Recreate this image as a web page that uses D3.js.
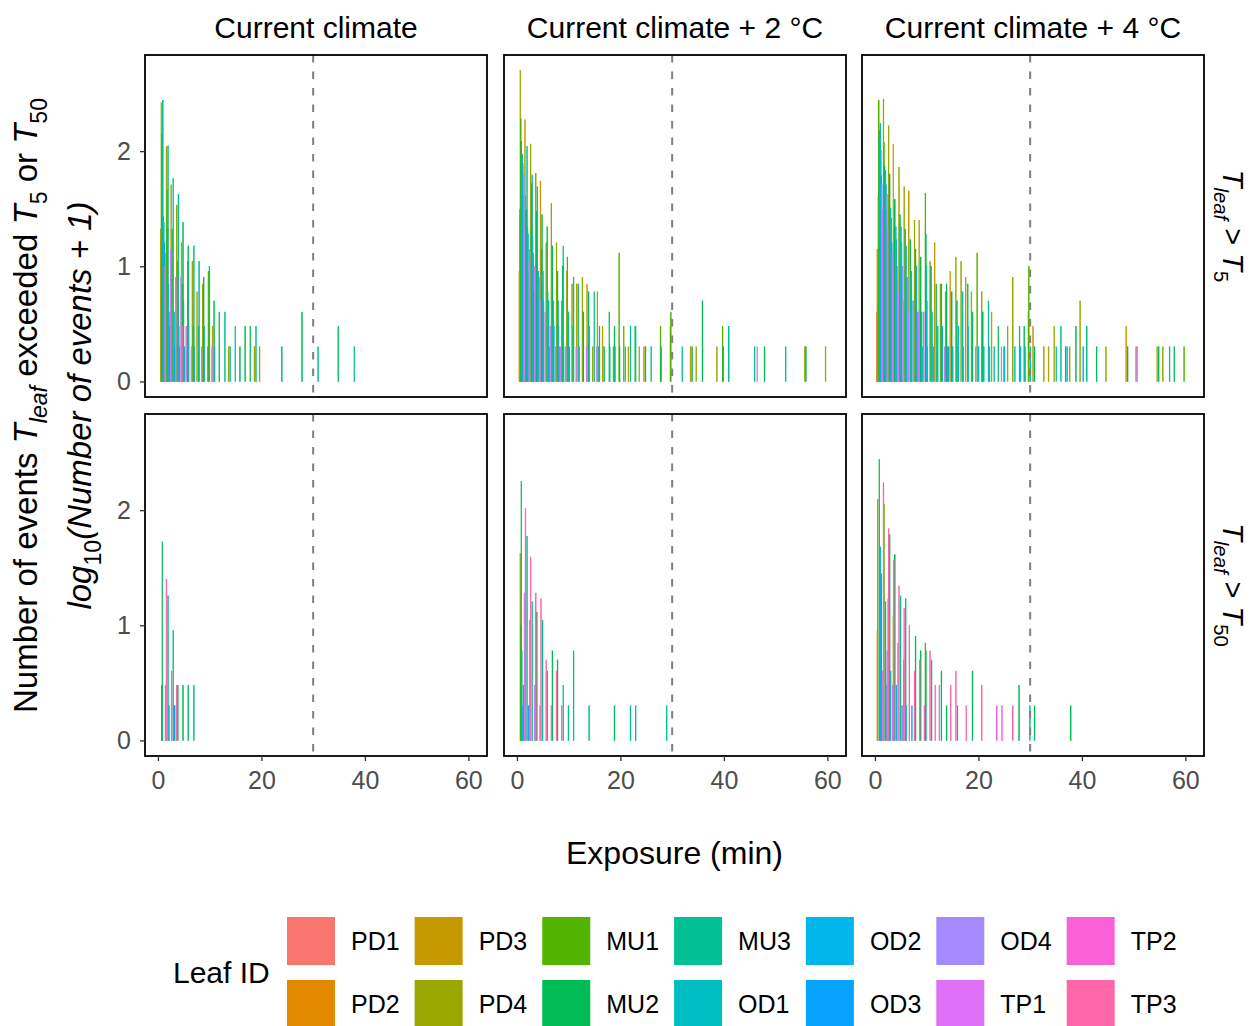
<!DOCTYPE html>
<html>
<head>
<meta charset="utf-8">
<script src="https://cdn.jsdelivr.net/npm/d3@7"></script>
<style>
  body { margin: 0; background: #fff; }
  svg { display: block; }
</style>
</head>
<body>
<svg id="chart" width="1251" height="1026"></svg>
<script>
// ---- data ---------------------------------------------------------------
const leafIds = ["PD1", "PD2", "PD3", "PD4", "MU1", "MU2", "MU3",
                 "OD1", "OD2", "OD3", "OD4", "TP1", "TP2", "TP3"];
const leafColors = ["#F8766D", "#E38900", "#C49A00", "#99A800", "#53B400", "#00BC56", "#00C094",
                    "#00BFC4", "#00B6EB", "#06A4FF", "#A58AFF", "#DF70F8", "#FB61D7", "#FF66A8"];
const climates = ["Current climate", "Current climate + 2 °C", "Current climate + 4 °C"];
const thresholds = ["5", "50"];
const xTicks = [0, 20, 40, 60];
const yTicks = [0, 1, 2];
const exposureLimit = 30;

// [leaf, exposure (min), number of events]
const eventsCurrentT5 = [
  ["PD3",1,20],["PD4",1,262],["MU1",1,140],["MU2",1,108],["MU3",1,274],["OD1",1,26],["OD2",1,23],["OD3",1,15],["OD4",1,9],["TP1",1,5],
  ["PD3",2,12],["PD4",2,108],["MU1",2,45],["MU2",2,20],["MU3",2,110],["OD1",2,6],["OD2",2,3],["OD3",2,2],["TP1",2,13],
  ["PD3",3,50],["PD4",3,10],["MU1",3,20],["MU3",3,57],["OD2",3,3],["OD3",3,1],["TP1",3,7],
  ["PD4",4,33],["MU1",4,10],["MU3",4,41],["OD1",4,2],["OD2",4,1],["TP1",4,7],["TP3",4,2],
  ["PD3",5,15],["MU1",5,6],["MU2",5,23],["MU3",5,4],["OD2",5,1],["TP1",5,2],
  ["PD4",6,2],["MU1",6,10],["MU2",6,14],["MU3",6,2],["TP1",6,1],
  ["PD4",7,10],["MU2",7,2],["MU3",7,14],["OD1",7,1],
  ["PD3",8,5],["MU2",8,2],["MU3",8,10],["TP1",8,1],
  ["PD4",9,6],["MU1",9,1],["MU2",9,7],["MU3",9,2],
  ["PD4",10,1],["MU1",10,8],["MU3",10,9],["TP1",10,1],
  ["PD3",11,2],["MU2",11,4],["MU3",11,1],
  ["MU2",12,3],["MU3",13,3],["PD4",14,1],["MU3",14,1],["MU3",15,2],["MU2",16,1],["MU2",17,2],["MU2",18,2],
  ["PD4",19,1],["MU3",19,2],["PD4",20,1],["MU3",24,1],["MU2",28,3],["MU3",31,1],["MU2",35,2],["MU3",38,1]
];
const eventsPlus2T5 = [
  ["PD2",1,8],["PD3",1,30],["PD4",1,500],["MU1",1,190],["MU2",1,120],["MU3",1,60],["OD1",1,93],["OD2",1,77],["OD3",1,40],["OD4",1,61],["TP1",1,20],
  ["PD3",2,186],["PD4",2,40],["MU1",2,28],["MU2",2,30],["MU3",2,109],["OD1",2,21],["OD2",2,18],["OD3",2,8],["OD4",2,10],["TP1",2,13],
  ["PD4",3,114],["MU1",3,20],["MU2",3,51],["MU3",3,61],["OD1",3,17],["OD2",3,12],["OD3",3,5],["TP1",3,9],
  ["PD4",4,63],["MU1",4,10],["MU2",4,29],["MU3",4,48],["OD1",4,6],["OD2",4,8],["OD4",4,7],["TP1",4,4],
  ["PD3",5,54],["MU1",5,13],["MU2",5,27],["MU3",5,6],["OD1",5,8],["OD2",5,4],["TP1",5,3],
  ["PD4",6,15],["MU2",6,21],["MU3",6,5],["OD1",6,4],["OD2",6,4],["OD3",6,1],["TP1",6,2],
  ["PD4",7,34],["MU2",7,14],["MU3",7,3],["OD1",7,4],["OD2",7,2],["TP1",7,1],
  ["PD4",8,15],["MU2",8,8],["MU3",8,4],["OD1",8,2],["OD2",8,1],["TP1",8,1],
  ["PD4",9,4],["MU2",9,9],["MU3",9,14],["OD1",9,1],["TP1",9,1],
  ["PD4",10,8],["MU1",10,11],["MU3",10,3],["OD2",10,1],
  ["PD4",11,6],["MU2",11,2],["MU3",11,7],["TP1",11,1],
  ["PD3",12,6],["MU2",12,6],["OD1",12,1],
  ["PD4",13,7],["MU2",13,3],["TP1",13,1],
  ["PD3",14,6],["MU2",14,5],["MU3",14,2],
  ["PD4",15,1],["MU3",15,5],["TP1",15,1],
  ["PD3",16,5],["MU2",16,1],["MU3",16,2],
  ["PD3",17,2],["MU2",17,1],["MU2",18,3],["MU3",18,1],
  ["PD4",19,1],["MU2",19,2],["MU3",19,1],["MU1",20,12],["MU2",20,1],
  ["PD4",21,2],["MU3",21,1],["PD3",22,1],["MU3",22,2],["MU2",23,2],["MU3",23,2],
  ["PD4",24,1],["PD3",25,1],["MU2",25,1],["MU3",26,1],["MU1",28,2],["MU2",28,1],
  ["PD4",30,2],["MU1",30,3],["MU3",32,1],["PD3",34,1],["MU2",34,1],["PD4",35,1],["MU2",36,4],
  ["PD4",39,1],["MU1",40,2],["MU2",40,1],["MU3",41,2],["TP1",46,1],["MU3",46,1],["MU2",48,1],
  ["MU3",52,1],["PD4",56,1],["MU2",56,1],["PD4",60,1]
];
const eventsPlus4T5 = [
  ["PD1",1,3],["PD2",1,13],["PD3",1,4],["PD4",1,40],["MU1",1,274],["MU2",1,128],["MU3",1,150],["OD1",1,173],["OD2",1,101],["OD3",1,60],["OD4",1,50],["TP1",1,30],
  ["PD4",2,280],["MU1",2,117],["MU2",2,73],["MU3",2,60],["OD1",2,67],["OD2",2,50],["OD3",2,30],["OD4",2,41],["TP1",2,20],
  ["PD4",3,165],["MU1",3,40],["MU2",3,62],["MU3",3,30],["OD1",3,31],["OD2",3,25],["OD3",3,15],["OD4",3,12],["TP1",3,9],
  ["PD3",4,114],["MU1",4,20],["MU2",4,37],["OD1",4,21],["OD2",4,16],["OD3",4,9],["OD4",4,7],["TP1",4,5],
  ["PD4",5,71],["MU2",5,27],["MU3",5,10],["OD1",5,21],["OD2",5,15],["OD3",5,6],["OD4",5,9],["TP1",5,4],
  ["PD4",6,48],["MU2",6,20],["MU3",6,6],["OD1",6,14],["OD2",6,7],["OD4",6,7],["TP1",6,3],
  ["PD3",7,44],["MU2",7,16],["MU3",7,4],["OD1",7,8],["OD2",7,4],["TP1",7,4],
  ["PD4",8,24],["MU2",8,13],["MU3",8,2],["OD1",8,9],["OD2",8,3],["TP1",8,3],
  ["PD3",9,24],["MU2",9,11],["OD1",9,3],["OD2",9,1],["TP1",9,3],
  ["MU1",10,42],["MU2",10,18],["MU3",10,9],["OD1",10,4],["OD2",10,1],
  ["PD4",11,10],["MU2",11,9],["OD1",11,3],["OD3",11,1],
  ["PD3",12,15],["MU2",12,6],["OD1",12,1],["OD2",12,2],
  ["PD4",13,6],["MU2",13,6],["OD1",13,2],["TP1",13,1],
  ["PD4",14,5],["MU2",14,6],["OD1",14,1],["OD3",14,1],
  ["PD3",15,8],["MU2",15,5],["OD1",15,1],
  ["PD4",16,11],["MU2",16,4],["OD1",16,1],["OD2",16,2],
  ["PD4",17,10],["MU3",17,5],["OD1",17,1],
  ["PD3",18,7],["MU3",18,6],["OD1",18,2],
  ["PD4",19,5],["MU2",19,3],["TP1",19,1],
  ["MU1",20,12],["OD1",20,1],["PD4",21,5],["MU2",21,3],["OD1",21,1],
  ["MU3",22,4],["OD2",22,1],["PD3",23,3],["OD1",23,1],["MU2",24,2],["TP1",24,1],
  ["MU3",25,1],["OD1",25,1],["PD4",26,2],["PD4",27,7],["OD1",27,1],["MU3",28,2],["OD2",28,1],
  ["MU2",29,2],["OD1",29,1],["PD4",30,3],["MU1",30,9],["OD1",30,1],["PD3",31,2],["MU2",31,1],
  ["PD4",33,1],["PD3",34,1],["PD4",35,2],["OD1",35,1],["MU3",36,2],["MU2",37,1],["OD2",37,1],
  ["PD4",38,1],["MU2",39,2],["PD4",40,4],["OD3",40,1],["MU3",41,2],["MU2",43,1],["PD4",45,1],
  ["PD3",49,2],["MU2",49,1],["TP1",50,1],["PD4",51,1],["PD3",55,1],["MU2",55,1],["PD4",56,1],
  ["MU3",57,1],["MU2",58,1],["MU1",60,1]
];
const eventsCurrentT50 = [
  ["MU1",1,2],["MU2",1,52],["TP1",1,2],["TP3",1,24],
  ["OD2",2,1],["MU3",2,17],["TP3",2,3],
  ["MU3",3,8],["OD1",3,1],["OD3",3,1],["TP3",3,2],
  ["MU2",4,2],["MU2",5,2],["MU2",6,2],["MU3",7,2]
];
const eventsPlus2T50 = [
  ["PD4",1,41],["MU1",1,9],["MU2",1,176],["MU3",1,5],["OD2",1,1],["OD3",1,2],["TP1",1,18],["TP3",1,102],
  ["MU3",2,58],["OD3",2,1],["TP1",2,10],["TP3",2,38],
  ["MU3",3,15],["TP1",3,2],["TP3",3,18],
  ["MU2",4,12],["TP1",4,1],["TP3",4,16],
  ["MU3",5,10],["TP3",5,4],["MU2",6,3],["TP3",6,1],["MU2",7,5],["TP3",7,3],
  ["MU2",8,4],["TP3",8,1],["MU3",9,2],["MU3",10,1],["MU3",11,5],["MU3",14,1],
  ["MU2",19,1],["MU3",22,1],["MU3",23,1],["MU3",29,1]
];
const eventsPlus4T50 = [
  ["PD2",1,8],["PD3",1,123],["MU2",1,274],["MU3",1,4],["OD1",1,47],["OD2",1,22],["OD3",1,27],["TP1",1,3],["TP3",1,172],
  ["MU1",2,112],["OD1",2,15],["OD3",2,2],["OD4",2,5],["TP2",2,1],["TP3",2,68],
  ["PD3",3,16],["MU2",3,60],["OD1",3,3],["TP1",3,2],["TP3",3,36],
  ["PD3",4,11],["MU2",4,40],["OD2",4,2],["TP1",4,6],["TP3",4,21],
  ["MU3",5,17],["OD3",5,1],["TP1",5,1],["TP3",5,13],
  ["PD3",6,4],["MU3",6,16],["OD1",6,1],["TP3",6,9],
  ["OD2",7,1],["TP3",7,3],["MU2",8,7],["TP3",8,4],["MU2",9,5],["TP2",9,1],
  ["MU1",10,6],["MU2",10,5],["TP3",10,5],["MU3",11,4],["TP3",11,2],["TP1",12,2],
  ["MU2",13,3],["MU2",14,1],["TP3",14,2],["TP3",15,3],["MU3",16,1],["TP3",17,1],
  ["MU2",19,3],["TP3",20,2],["TP2",23,1],["TP2",24,1],["TP3",26,1],["MU2",28,2],
  ["MU3",30,1],["MU2",31,1],["MU2",38,1]
];

// ---- layout -------------------------------------------------------------
const FONT = '"Liberation Sans", Arial, Helvetica, sans-serif';
const panelX = [145, 504, 862];
const panelY = [55, 414];
const panelW = 342, panelH = 342;
const dodgeStep = 0.1;           // exposure offset between leaves within one minute

const panels = [
  [eventsCurrentT5, eventsPlus2T5, eventsPlus4T5],
  [eventsCurrentT50, eventsPlus2T50, eventsPlus4T50]
];

const svg = d3.select("#chart").style("font-family", FONT);
svg.append("rect").attr("width", 1251).attr("height", 1026).attr("fill", "#fff");

const color = d3.scaleOrdinal().domain(leafIds).range(leafColors);
const leafIndex = new Map(leafIds.map((d, i) => [d, i]));

// Writes text made of plain / italic / subscript pieces into a <text> node.
function richText(sel, parts, size) {
  let shifted = 0;
  parts.forEach(p => {
    const t = sel.append("tspan").text(p.t);
    const target = p.sub ? size * 0.3 : 0;
    if (target !== shifted) { t.attr("dy", target - shifted); shifted = target; }
    t.attr("font-size", p.sub ? size * 0.7 : size);
    if (p.i) t.attr("font-style", "italic");
  });
  return sel;
}

const defs = svg.append("defs");

panels.forEach((row, r) => {
  row.forEach((events, c) => {
    const x0 = panelX[c], y0 = panelY[r];
    const xs = d3.scaleLinear().domain([-2.5, 63.6]).range([x0, x0 + panelW]);
    const ys = d3.scaleLinear().domain([-0.135, 2.835]).range([y0 + panelH, y0]);
    const clipId = `clip-${r}-${c}`;
    defs.append("clipPath").attr("id", clipId)
      .append("rect").attr("x", x0).attr("y", y0).attr("width", panelW).attr("height", panelH);

    const g = svg.append("g").attr("clip-path", `url(#${clipId})`);
    const bw = xs(dodgeStep) - xs(0);
    const rows = events.slice().sort((a, b) => leafIndex.get(a[0]) - leafIndex.get(b[0]) || a[1] - b[1]);

    g.selectAll("rect.bar").data(rows).join("rect")
      .attr("class", "bar")
      .attr("x", d => xs(d[1] + (leafIndex.get(d[0]) - 6.5) * dodgeStep) - bw / 2)
      .attr("width", bw)
      .attr("y", d => ys(Math.log10(d[2] + 1)))
      .attr("height", d => ys(0) - ys(Math.log10(d[2] + 1)))
      .attr("fill", d => color(d[0]))
      .attr("stroke", d => color(d[0]))
      .attr("stroke-width", 0.8);

    g.append("line")
      .attr("x1", xs(exposureLimit)).attr("x2", xs(exposureLimit))
      .attr("y1", y0).attr("y2", y0 + panelH)
      .attr("stroke", "#7F7F7F").attr("stroke-width", 2)
      .attr("stroke-dasharray", "7.5,9");

    svg.append("rect")
      .attr("x", x0).attr("y", y0).attr("width", panelW).attr("height", panelH)
      .attr("fill", "none").attr("stroke", "#000").attr("stroke-width", 1.8);

    if (c === 0) {
      const ax = svg.append("g").attr("transform", `translate(${x0},0)`)
        .call(d3.axisLeft(ys).tickValues(yTicks).tickSize(5).tickPadding(9).tickFormat(d3.format("d")));
      ax.select(".domain").remove();
      ax.selectAll("line").attr("stroke", "#333").attr("stroke-width", 1.3);
      ax.selectAll("text").attr("fill", "#4D4D4D").attr("font-size", 25).attr("font-family", FONT);
    }
    if (r === 1) {
      const ax = svg.append("g").attr("transform", `translate(0,${y0 + panelH})`)
        .call(d3.axisBottom(xs).tickValues(xTicks).tickSize(5).tickPadding(10).tickFormat(d3.format("d")));
      ax.select(".domain").remove();
      ax.selectAll("line").attr("stroke", "#333").attr("stroke-width", 1.3);
      ax.selectAll("text").attr("fill", "#4D4D4D").attr("font-size", 25).attr("font-family", FONT);
    }
    if (r === 0) {
      svg.append("text")
        .attr("x", x0 + panelW / 2).attr("y", 38)
        .attr("text-anchor", "middle").attr("font-size", 30).attr("fill", "#000")
        .text(climates[c]);
    }
    if (c === 2) {
      const t = svg.append("text")
        .attr("transform", `translate(${x0 + panelW + 19},${y0 + panelH / 2}) rotate(90)`)
        .attr("text-anchor", "middle").attr("fill", "#000");
      richText(t, [
        { t: "T", i: true }, { t: "leaf", i: true, sub: true },
        { t: " > " }, { t: "T", i: true }, { t: thresholds[r], sub: true }
      ], 29);
    }
  });
});

// ---- axis titles ----------------------------------------------------------
const yMid = (panelY[0] + panelY[1] + panelH) / 2;
richText(
  svg.append("text").attr("transform", `translate(37,${yMid}) rotate(-90)`)
    .attr("text-anchor", "middle").attr("fill", "#000"),
  [
    { t: "Number of events " }, { t: "T", i: true }, { t: "leaf", i: true, sub: true },
    { t: " exceeded " }, { t: "T", i: true }, { t: "5", sub: true },
    { t: " or " }, { t: "T", i: true }, { t: "50", sub: true }
  ], 33);
richText(
  svg.append("text").attr("transform", `translate(91,${yMid}) rotate(-90)`)
    .attr("text-anchor", "middle").attr("fill", "#000"),
  [
    { t: "log", i: true }, { t: "10", sub: true }, { t: "(Number of events + 1)", i: true }
  ], 33);

svg.append("text")
  .attr("x", (panelX[0] + panelX[2] + panelW) / 2).attr("y", 864)
  .attr("text-anchor", "middle").attr("font-size", 32).attr("fill", "#000")
  .text("Exposure (min)");

// ---- legend ---------------------------------------------------------------
const legend = svg.append("g");
legend.append("text").attr("x", 173).attr("y", 983)
  .attr("font-size", 30).attr("fill", "#000").text("Leaf ID");

const keySize = 48, keyRows = [917, 980];
let colX = 287;
for (let col = 0; col < Math.ceil(leafIds.length / 2); col++) {
  let maxW = 0;
  for (let rr = 0; rr < 2; rr++) {
    const id = leafIds[col * 2 + rr];
    if (!id) continue;
    legend.append("rect")
      .attr("x", colX).attr("y", keyRows[rr]).attr("width", keySize).attr("height", keySize)
      .attr("fill", color(id));
    const lbl = legend.append("text")
      .attr("x", colX + keySize + 16).attr("y", keyRows[rr] + keySize / 2 + 9)
      .attr("font-size", 25).attr("fill", "#000").text(id);
    maxW = Math.max(maxW, lbl.node().getComputedTextLength());
  }
  colX += keySize + 16 + maxW + 15;
}
</script>
</body>
</html>
